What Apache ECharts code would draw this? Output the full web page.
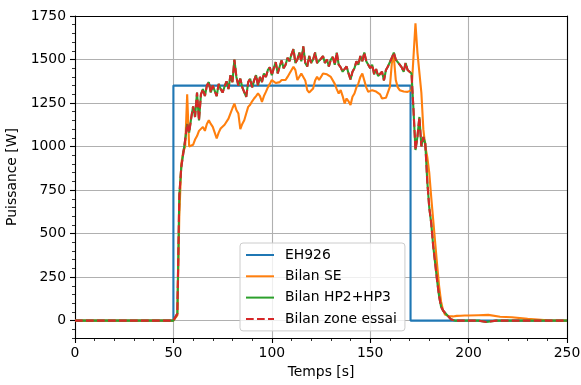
<!DOCTYPE html>
<html>
<head>
<meta charset="utf-8">
<script src="https://cdn.jsdelivr.net/npm/echarts@6/dist/echarts.min.js"></script>
<style>
html,body{margin:0;padding:0;background:#fff;}
#chart{width:581px;height:385px;}
</style>
</head>
<body>
<div id="chart"></div>
<script>
// ---- data ----
const seriesNames = ['EH926', 'Bilan SE', 'Bilan HP2+HP3', 'Bilan zone essai'];
const yTickLabels = [0, 250, 500, 750, 1000, 1250, 1500, 1750];
const yMinorTicks = [-100, -50, 0, 50, 100, 150, 200, 250, 300, 350, 400, 450, 500, 550, 600, 650, 700, 750, 800, 850, 900, 950, 1000, 1050, 1100, 1150, 1200, 1250, 1300, 1350, 1400, 1450, 1500, 1550, 1600, 1650, 1700, 1750];

// EH926 step signal
const ehTimes = [0, 50, 50, 170.5, 170.5, 250];
const ehPower = [0, 0, 1350, 1350, 0, 0];

// 1-s samples from t = 50 s to t = 200 s
const gridStart = 50;
const bilanSE = [
  0, 0, 30, 600, 900, 970, 1000, 1300, 1000, 990,
  1010, 1040, 1060, 1090, 1100, 1113, 1090, 1130, 1151, 1130,
  1113, 1080, 1046, 1080, 1104, 1110, 1125, 1132, 1160, 1190,
  1220, 1247, 1210, 1190, 1100, 1130, 1151, 1190, 1228, 1240,
  1260, 1276, 1290, 1305, 1290, 1257, 1290, 1314, 1340, 1360,
  1382, 1375, 1365, 1363, 1370, 1382, 1390, 1382, 1400, 1420,
  1410, 1458, 1439, 1382, 1390, 1420, 1430, 1380, 1324, 1310,
  1305, 1334, 1380, 1401, 1382, 1400, 1420, 1420, 1415, 1420,
  1400, 1391, 1360, 1330, 1305, 1324, 1290, 1247, 1276, 1260,
  1238, 1286, 1305, 1340, 1363, 1400, 1420, 1410, 1340, 1314,
  1320, 1324, 1320, 1316, 1314, 1300, 1276, 1270, 1280, 1286,
  1343, 1480, 1516, 1382, 1340, 1324, 1320, 1316, 1314, 1314,
  1320, 1324, 1330, 1708, 1540, 1530, 1310, 1100, 1000, 940,
  850, 710, 580, 450, 320, 200, 110, 60, 35, 25,
  25, 26, 24, 25, 27, 28, 28, 29, 29, 29,
  29
];
const seTailTimes = [205, 210, 216, 222, 230, 240, 250];
const seTailPower = [31, 33, 22, 19, 10, 2, 0];

const bilanHP = [
  0, 0, 40, 720, 880, 960, 1040, 1130, 1080, 1160,
  1230, 1170, 1310, 1150, 1300, 1330, 1290, 1350, 1370, 1310,
  1350, 1320, 1290, 1360, 1330, 1310, 1345, 1375, 1330, 1410,
  1370, 1500, 1400, 1350, 1390, 1340, 1330, 1285, 1370, 1390,
  1340, 1380, 1410, 1350, 1400, 1370, 1420, 1400, 1440, 1455,
  1410, 1450, 1485, 1420, 1460, 1495, 1450, 1470, 1510, 1490,
  1530, 1560, 1480, 1500, 1540, 1490, 1575, 1480, 1460, 1520,
  1480, 1500, 1540, 1480, 1470, 1505, 1520, 1480, 1500, 1460,
  1500, 1515, 1470, 1540, 1470, 1455, 1430, 1420, 1460, 1420,
  1385, 1430, 1450, 1490, 1470, 1520, 1490, 1540, 1490, 1470,
  1450, 1470, 1415, 1445, 1405, 1395, 1430, 1380, 1440, 1460,
  1470, 1510, 1540, 1500, 1490, 1470, 1455, 1430, 1480, 1440,
  1450, 1420, 1209, 980, 1055, 1170, 1000, 1055, 1017, 800,
  650, 560, 430, 330, 230, 140, 80, 58, 45, 35,
  20, 8, 2, 0, 0, 0, 0, 0, 0, 0,
  0
];
const hpTailTimes = [205, 209, 214, 250];
const hpTailPower = [0, -8, 0, 0];
const bilanZone = bilanHP;

// ---- build points ----
function build(values, tailT, tailV) {
  const pts = [[0, 0]];
  values.forEach((v, i) => pts.push([gridStart + i, v]));
  tailT.forEach((t, i) => pts.push([t, tailV[i]]));
  return pts;
}
const ehData = ehTimes.map((t, i) => [t, ehPower[i]]);
const seData = build(bilanSE, seTailTimes, seTailPower);
const hpData = build(bilanHP, hpTailTimes, hpTailPower);
const zoneData = build(bilanZone, hpTailTimes, hpTailPower);

const FONT = 'DejaVu Sans';
const FS = 13.9;
const plain = v => String(v);
const frameAxis = {
  axisLine: {show: true, onZero: false, lineStyle: {color: '#000', width: 1.1}},
  axisTick: {show: false}, axisLabel: {show: false}, splitLine: {show: false}
};
const chart = echarts.init(document.getElementById('chart'), null, {renderer: 'canvas'});
chart.setOption({
  backgroundColor: '#ffffff',
  animation: false,
  textStyle: {fontFamily: FONT},
  grid: {left: 75, right: 14, top: 16, bottom: 47, outerBoundsMode: 'none', containLabel: false,
         show: false},
  legend: {
    orient: 'vertical', left: 240, top: 243,
    data: seriesNames,
    itemWidth: 28, itemHeight: 14, itemGap: 7.3,
    padding: [5, 8, 5, 5],
    itemStyle: {opacity: 0},
    backgroundColor: 'rgba(255,255,255,0.8)',
    borderColor: '#cccccc', borderWidth: 1, borderRadius: 3,
    textStyle: {fontFamily: FONT, fontSize: FS, color: '#000', padding: [0, 0, 0, 6], lineHeight: 14}
  },
  xAxis: [{
    type: 'value', min: 0, max: 250, interval: 50,
    name: 'Temps [s]', nameLocation: 'middle', nameGap: 25,
    nameTextStyle: {fontFamily: FONT, fontSize: FS, color: '#000'},
    axisLine: {show: true, onZero: false, lineStyle: {color: '#000', width: 1.1}},
    axisTick: {show: true, length: 5, lineStyle: {color: '#000', width: 1.1}},
    minorTick: {show: true, splitNumber: 5, length: 3, lineStyle: {color: '#000', width: 0.8}},
    axisLabel: {fontFamily: FONT, fontSize: FS, color: '#000', margin: 8, formatter: plain},
    splitLine: {show: true, lineStyle: {color: '#b0b0b0', width: 1.1}}
  }, Object.assign({type: 'value', min: 0, max: 250, interval: 50, position: 'top'}, frameAxis)],
  yAxis: [{
    type: 'value', min: -100, max: 1750, interval: 50,
    name: 'Puissance [W]', nameLocation: 'middle', nameGap: 47,
    nameTextStyle: {fontFamily: FONT, fontSize: FS, color: '#000'},
    axisLine: {show: true, onZero: false, lineStyle: {color: '#000', width: 1.1}},
    axisTick: {show: true, length: 5, customValues: yTickLabels, lineStyle: {color: '#000', width: 1.1}},
    axisLabel: {fontFamily: FONT, fontSize: FS, color: '#000', margin: 9, customValues: yTickLabels, formatter: plain},
    splitLine: {show: true, lineStyle: {color: '#b0b0b0', width: 1.1}}
  }, {
    type: 'value', min: -100, max: 1750, interval: 50, position: 'left',
    axisLine: {show: false},
    axisTick: {show: true, length: 3, customValues: yMinorTicks, lineStyle: {color: '#000', width: 0.8}},
    axisLabel: {show: false},
    splitLine: {show: false}
  }, Object.assign({type: 'value', min: -100, max: 1750, interval: 50, position: 'right'}, frameAxis)],
  series: [
    {name: seriesNames[0], type: 'line', data: ehData, symbol: 'none', color: '#1f77b4', lineStyle: {width: 2.1, color: '#1f77b4'}},
    {name: seriesNames[1], type: 'line', data: seData, symbol: 'none', color: '#ff7f0e', lineStyle: {width: 2.1, color: '#ff7f0e'}},
    {name: seriesNames[2], type: 'line', data: hpData, symbol: 'none', color: '#2ca02c', lineStyle: {width: 2.1, color: '#2ca02c'}},
    {name: seriesNames[3], type: 'line', data: zoneData, symbol: 'none', color: '#d62728', lineStyle: {width: 2.1, color: '#d62728', type: [7.7, 3.3]}}
  ]
});
</script>
</body>
</html>
